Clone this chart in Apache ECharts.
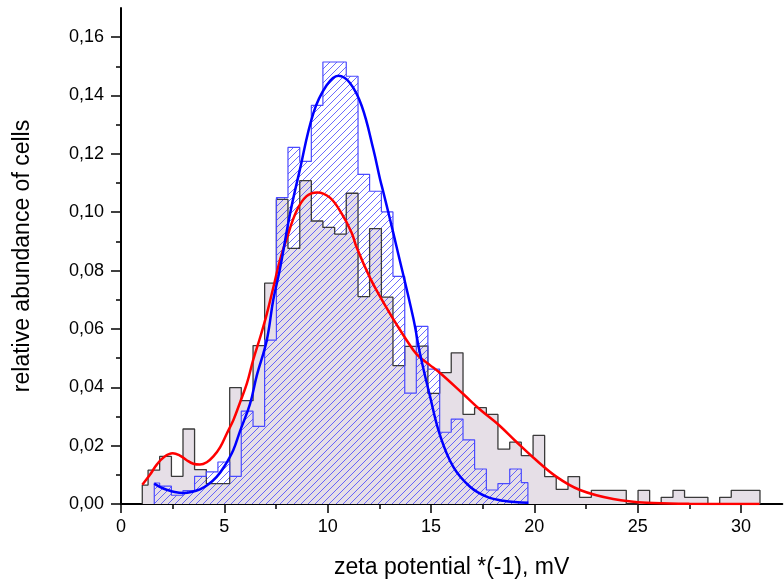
<!DOCTYPE html>
<html>
<head>
<meta charset="utf-8">
<script src="https://cdn.jsdelivr.net/npm/echarts@6/dist/echarts.min.js"></script>
<style>html,body{margin:0;padding:0;background:#fff;}#c{width:784px;height:584px;}</style>
</head>
<body>
<div id="c"></div>
<script>
// ---- data ----
const xTitle = 'zeta potential *(-1), mV';
const yTitle = 'relative abundance of cells';
const xTicks = [0, 5, 10, 15, 20, 25, 30];
const xMinorTicks = [2.5, 7.5, 12.5, 17.5, 22.5, 27.5];
const yTicks = [0, 0.02, 0.04, 0.06, 0.08, 0.10, 0.12, 0.14, 0.16];
const yMinorTicks = [0.01, 0.03, 0.05, 0.07, 0.09, 0.11, 0.13, 0.15];

// histogram bin left edges (mV)
const binEdges = [1.31, 1.87, 2.44, 3.00, 3.56, 4.13, 4.69, 5.26, 5.82, 6.39, 6.95, 7.52, 8.08, 8.65, 9.21,
  9.77, 10.34, 10.90, 11.47, 12.03, 12.60, 13.16, 13.73, 14.29, 14.85, 15.42, 15.98, 16.55, 17.11, 17.68,
  18.24, 18.81, 19.37, 19.94, 20.50, 21.06, 21.63, 22.19, 22.76, 23.32, 23.89, 24.45, 25.02, 25.58, 26.14,
  26.71, 27.27, 27.84, 28.40, 28.97, 29.53, 30.10, 30.66];

// grey histogram (all cells): partial first bin, then bins from binEdges[0]
const greyStart = 1.03, greyFirst = 0.0065, greyEnd = 30.92, greyFirstBin = 0;
const greyHeights = [0.0116, 0.0163, 0.0095, 0.0257, 0.0118, 0.0070, 0.0070, 0.0399, 0.0354, 0.0543,
  0.0757, 0.1044, 0.0876, 0.1108, 0.0970, 0.0948, 0.0925, 0.1065, 0.0711, 0.0944, 0.0709, 0.0474, 0.0540,
  0.0542, 0.0379, 0.0450, 0.0518, 0.0307, 0.0330, 0.0307, 0.0188, 0.0212, 0.0166, 0.0235, 0.0094, 0.0050,
  0.0094, 0.0023, 0.0047, 0.0047, 0.0047, 0.0000, 0.0047, 0.0004, 0.0023, 0.0047, 0.0023, 0.0023, 0.0000,
  0.0023, 0.0047, 0.0047, 0.0047];

// blue hatched histogram: partial first bin, then bins from binEdges[1]
const blueStart = 1.61, blueFirst = 0.0072, blueEnd = 19.69, blueFirstBin = 1;
const blueHeights = [0.0061, 0.0030, 0.0046, 0.0095, 0.0110, 0.0144, 0.0095, 0.0318, 0.0266, 0.0562,
  0.1050, 0.1222, 0.1174, 0.1366, 0.1515, 0.1515, 0.1466, 0.1130, 0.1072, 0.1001, 0.0780, 0.0380, 0.0609,
  0.0462, 0.0246, 0.0291, 0.0220, 0.0120, 0.0048, 0.0070, 0.0120, 0.0073];

// fitted curves [x, y]
const redFit = [[1.03, 0.0066], [1.4, 0.0100], [1.73, 0.0135], [2.1, 0.0162], [2.5, 0.0174], [2.85, 0.0166],
  [3.18, 0.0150], [3.5, 0.0138], [3.82, 0.0135], [4.15, 0.0143], [4.47, 0.0163], [4.8, 0.0195], [5.11, 0.0240],
  [5.45, 0.0290], [5.76, 0.0348], [6.1, 0.0415], [6.40, 0.0495], [6.75, 0.0575], [7.05, 0.0650], [7.37, 0.0742],
  [7.69, 0.0835], [8.02, 0.0910], [8.50, 0.1005], [8.98, 0.1055], [9.5, 0.1068], [10.11, 0.1050], [10.68, 0.0995],
  [11.16, 0.0930], [11.40, 0.0880], [12.05, 0.0775], [12.53, 0.0712], [13.34, 0.0615], [14.14, 0.0528],
  [14.47, 0.0502], [14.95, 0.0476], [15.44, 0.0449], [16.56, 0.0377], [17.4, 0.0322], [18.23, 0.0274],
  [19.1, 0.0215], [19.92, 0.0161], [21.08, 0.0093], [22.21, 0.0048], [23.82, 0.0017], [25.44, 0.0004],
  [27.5, 0.0001], [30.9, 0.0]];
const blueFit = [[1.61, 0.0070], [1.9, 0.0058], [2.21, 0.0049], [2.6, 0.0041], [3.02, 0.0038], [3.4, 0.0041],
  [3.82, 0.0050], [4.2, 0.0066], [4.63, 0.0093], [5.03, 0.0132], [5.43, 0.0184], [5.76, 0.0250], [6.24, 0.0342],
  [6.57, 0.0440], [7.05, 0.0560], [7.37, 0.0700], [7.69, 0.0805], [8.18, 0.0995], [8.62, 0.1135], [9.31, 0.1340],
  [9.95, 0.1435], [10.52, 0.1468], [11.08, 0.1443], [11.65, 0.1364], [12.21, 0.1216], [12.53, 0.1115],
  [12.69, 0.1070], [13.02, 0.0975], [13.34, 0.0880], [14.14, 0.0638], [14.47, 0.0515], [14.95, 0.0370],
  [15.44, 0.0235], [16.08, 0.0127], [16.89, 0.0059], [17.69, 0.0025], [18.5, 0.0011], [19.71, 0.0004]];

// ---- build step outlines ----
function stepData(start, first, heights, firstBin, end) {
  const pts = [[start, 0], [start, first]];
  for (let i = 0; i < heights.length; i++) {
    pts.push([binEdges[firstBin + i], heights[i]]);
  }
  pts.push([end, 0]);
  return pts;
}
const greyData = stepData(greyStart, greyFirst, greyHeights, greyFirstBin, greyEnd);
const blueData = stepData(blueStart, blueFirst, blueHeights, blueFirstBin, blueEnd);

function hatch() {
  const n = 7;
  const c = document.createElement('canvas');
  c.width = n; c.height = n;
  const ctx = c.getContext('2d');
  ctx.strokeStyle = '#3a3aff';
  ctx.lineWidth = 1;
  ctx.beginPath();
  ctx.moveTo(-1, n + 1); ctx.lineTo(n + 1, -1);
  ctx.stroke();
  return c;
}

const FONT = 'Liberation Sans';
const fmtY = v => v.toFixed(2).replace('.', ',');
const chart = echarts.init(document.getElementById('c'), null, {renderer: 'canvas'});
const axisLine = {show: true, onZero: false, lineStyle: {color: '#000', width: 2}};
chart.setOption({
  animation: false,
  backgroundColor: '#fff',
  grid: {left: 121, right: 1.7, top: 8, bottom: 76.7, containLabel: false},
  xAxis: [{
    type: 'value', min: 0, max: 32,
    name: xTitle, nameLocation: 'middle', nameGap: 52,
    nameTextStyle: {fontFamily: FONT, fontSize: 23, color: '#000'},
    axisLine: axisLine,
    axisTick: {show: true, customValues: xTicks, length: 9, lineStyle: {color: '#000', width: 1.5}},
    axisLabel: {customValues: xTicks, fontFamily: FONT, fontSize: 18, color: '#000', margin: 14},
    splitLine: {show: false}
  }, {
    type: 'value', min: 0, max: 32, position: 'bottom',
    axisLine: {show: false},
    axisTick: {show: true, customValues: xMinorTicks, length: 5, lineStyle: {color: '#000', width: 1.5}},
    axisLabel: {show: false}, splitLine: {show: false}
  }],
  yAxis: [{
    type: 'value', min: 0, max: 0.17,
    name: yTitle, nameLocation: 'middle', nameGap: 87,
    nameTextStyle: {fontFamily: FONT, fontSize: 23, color: '#000'},
    axisLine: axisLine,
    axisTick: {show: true, customValues: yTicks, length: 10, lineStyle: {color: '#000', width: 1.5}},
    axisLabel: {customValues: yTicks, formatter: fmtY, fontFamily: FONT, fontSize: 18, color: '#000', margin: 17},
    splitLine: {show: false}
  }, {
    type: 'value', min: 0, max: 0.17, position: 'left',
    axisLine: {show: false},
    axisTick: {show: true, customValues: yMinorTicks, length: 5, lineStyle: {color: '#000', width: 1.5}},
    axisLabel: {show: false}, splitLine: {show: false}
  }],
  series: [
    {type: 'line', step: 'end', data: greyData, symbol: 'none', z: 1,
     lineStyle: {width: 0, opacity: 0}, areaStyle: {color: '#e6dfe7', opacity: 1}},
    {type: 'line', step: 'end', data: blueData, symbol: 'none', z: 2,
     itemStyle: {color: '#3a3aff'},
     lineStyle: {width: 0, opacity: 0}, areaStyle: {color: {image: hatch(), repeat: 'repeat'}, opacity: 0.75}},
    {type: 'line', step: 'end', data: greyData, symbol: 'none', z: 3,
     lineStyle: {color: '#3a3a3a', width: 1.3}},
    {type: 'line', step: 'end', data: blueData, symbol: 'none', z: 4,
     lineStyle: {color: '#4a4aff', width: 1.2}},
    {type: 'line', data: redFit, symbol: 'none', smooth: 0.4, z: 5,
     lineStyle: {color: '#ff0000', width: 2.5}},
    {type: 'line', data: blueFit, symbol: 'none', smooth: 0.4, z: 6,
     lineStyle: {color: '#0000ff', width: 2.5}}
  ]
});
</script>
</body>
</html>
